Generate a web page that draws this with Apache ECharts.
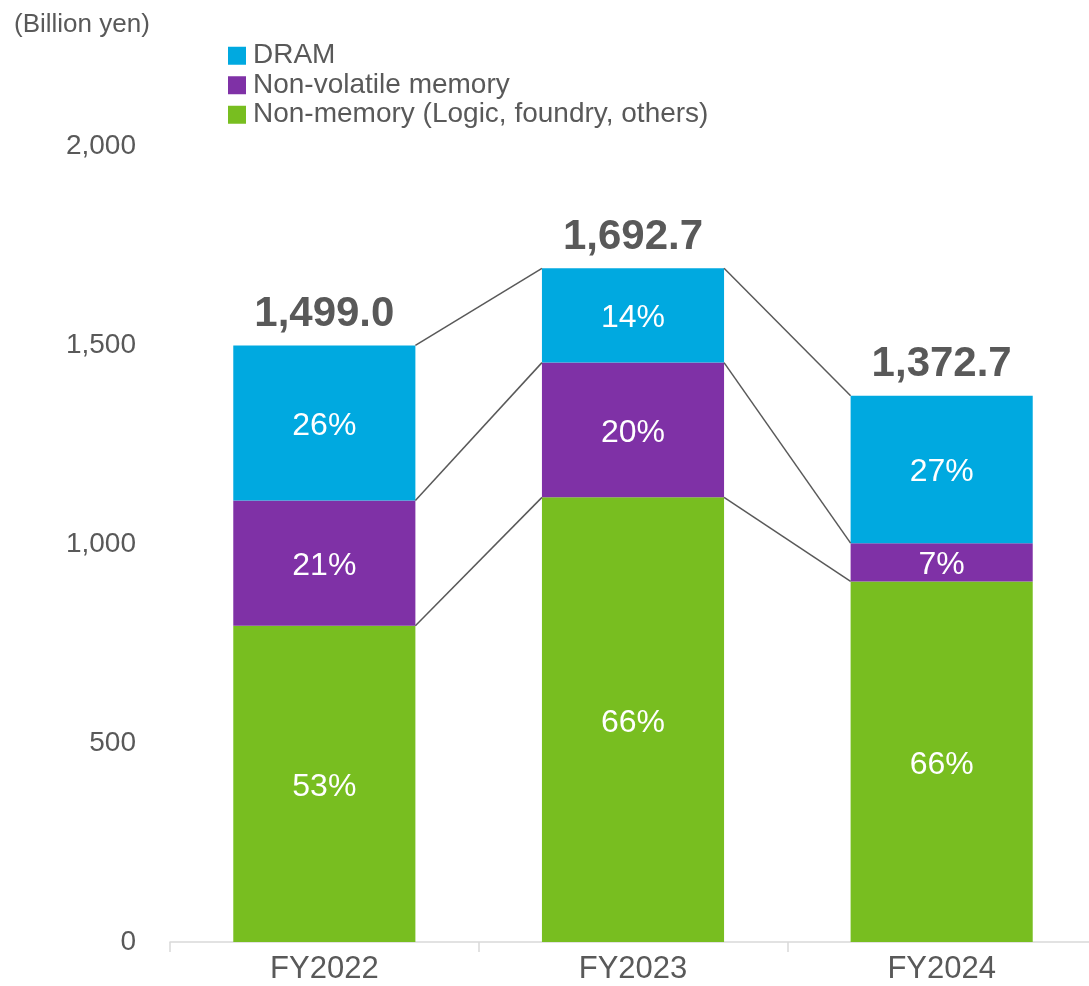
<!DOCTYPE html>
<html>
<head>
<meta charset="utf-8">
<script src="https://cdn.jsdelivr.net/npm/echarts@6/dist/echarts.min.js"></script>
<style>
  html, body { margin: 0; padding: 0; background: #fff; overflow: hidden; }
  #chart { width: 1096px; height: 986px; }
</style>
</head>
<body>
<div id="chart"></div>
<script>
// Sales by application (billion yen) and the share of each segment (%)
const categories = ['FY2022', 'FY2023', 'FY2024'];
const totals = [1499.0, 1692.7, 1372.7];
const dramShare = [26, 14, 27];
const nonVolatileShare = [21, 20, 7];
const nonMemoryShare = [53, 66, 66];
const yTicks = [0, 500, 1000, 1500, 2000];

const seriesNames = ['DRAM', 'Non-volatile memory', 'Non-memory (Logic, foundry, others)'];
const colors = { dram: '#00A9E0', nonVolatile: '#7F31A6', nonMemory: '#78BE20' };
const textGray = '#595959';
const FONT = '"Liberation Sans", Arial, sans-serif';
const BAR_RATIO = 0.59;

// Segment amounts derived from each year's total and its labelled share
const segAmount = (shares) => shares.map((s, i) => totals[i] * s / 100);
const nonMemory = segAmount(nonMemoryShare);
const nonVolatile = segAmount(nonVolatileShare);
const dram = segAmount(dramShare);

// Cumulative stack tops, used for the connector lines between bars
const levels = categories.map((_, i) => [
  nonMemory[i],
  nonMemory[i] + nonVolatile[i],
  nonMemory[i] + nonVolatile[i] + dram[i]
]);

const chart = echarts.init(document.getElementById('chart'));

function segSeries(name, values, shares, color) {
  return {
    name: name,
    type: 'bar',
    stack: 'sales',
    barWidth: (BAR_RATIO * 100) + '%',
    data: values,
    itemStyle: { color: color },
    label: {
      show: true,
      position: 'inside',
      offset: [0, 3],
      color: '#fff',
      fontFamily: FONT,
      fontSize: 32,
      formatter: (p) => shares[p.dataIndex] + '%'
    },
    emphasis: { disabled: true },
    z: 2
  };
}

const option = {
  animation: false,
  backgroundColor: '#fff',
  textStyle: { fontFamily: FONT },
  title: {
    text: '(Billion yen)',
    left: 9,
    top: 7,
    textStyle: { color: textGray, fontSize: 26, fontWeight: 'normal', fontFamily: FONT }
  },
  legend: {
    data: seriesNames,
    orient: 'vertical',
    left: 223,
    top: 36,
    itemWidth: 18,
    itemHeight: 18,
    itemGap: 0,
    icon: 'rect',
    selectedMode: false,
    textStyle: { color: textGray, fontSize: 28, fontFamily: FONT, lineHeight: 29.5, padding: [0, 0, 0, 2] }
  },
  grid: { left: 170, top: 146, width: 926, bottom: 44 },
  xAxis: {
    type: 'category',
    data: categories,
    axisLine: { lineStyle: { color: '#D9D9D9', width: 1.5 } },
    axisTick: { show: true, length: 10, lineStyle: { color: '#D9D9D9', width: 1.5 } },
    axisLabel: { color: textGray, fontSize: 31, fontFamily: FONT, margin: 12 }
  },
  yAxis: {
    type: 'value',
    min: yTicks[0],
    max: yTicks[yTicks.length - 1],
    interval: yTicks[1] - yTicks[0],
    axisLine: { show: false },
    axisTick: { show: false },
    splitLine: { show: false },
    axisLabel: {
      color: textGray, fontSize: 28, fontFamily: FONT, margin: 34,
      formatter: (v) => v.toLocaleString('en-US')
    }
  },
  series: [
    segSeries(seriesNames[2], nonMemory, nonMemoryShare, colors.nonMemory),
    segSeries(seriesNames[1], nonVolatile, nonVolatileShare, colors.nonVolatile),
    segSeries(seriesNames[0], dram, dramShare, colors.dram),
    {
      // Connector lines between neighbouring bars, plus the total above each bar
      type: 'custom',
      name: 'totals',
      data: categories.map((_, i) => [i, totals[i]]),
      silent: true,
      z: 3,
      renderItem: function (params, api) {
        const i = api.value(0);
        const half = api.size([1, 0])[0] * BAR_RATIO / 2;
        const children = [];
        const top = api.coord([i, totals[i]]);
        children.push({
          type: 'text',
          x: top[0],
          y: top[1] - 10,
          style: {
            text: totals[i].toLocaleString('en-US', { minimumFractionDigits: 1, maximumFractionDigits: 1 }),
            fill: textGray,
            font: 'bold 42px ' + FONT,
            align: 'center',
            verticalAlign: 'bottom'
          }
        });
        if (i < categories.length - 1) {
          for (let k = 0; k < 3; k++) {
            const a = api.coord([i, levels[i][k]]);
            const b = api.coord([i + 1, levels[i + 1][k]]);
            children.push({
              type: 'line',
              shape: { x1: a[0] + half, y1: a[1], x2: b[0] - half, y2: b[1] },
              style: { stroke: textGray, lineWidth: 1.5 }
            });
          }
        }
        return { type: 'group', children: children };
      }
    }
  ]
};

chart.setOption(option);
</script>
</body>
</html>
